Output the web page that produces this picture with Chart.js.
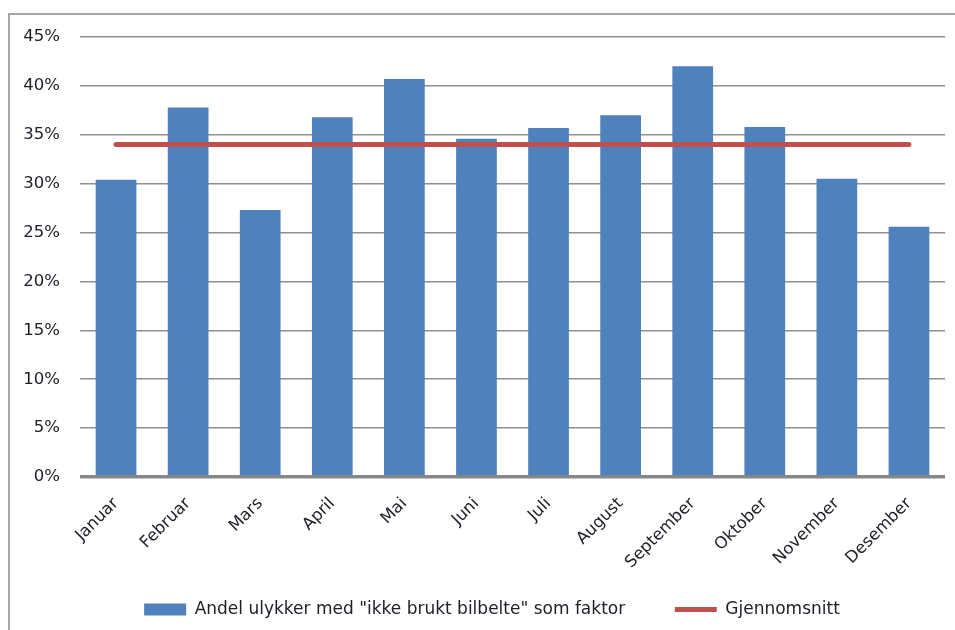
<!DOCTYPE html>
<html lang="no">
<head>
<meta charset="utf-8">
<title>Andel ulykker med "ikke brukt bilbelte" som faktor</title>
<script src="https://cdn.jsdelivr.net/npm/chart.js@4.4.1/dist/chart.umd.min.js"></script>
<style>
  html, body { margin: 0; padding: 0; background: #ffffff; overflow: hidden; }
  #wrap { position: relative; width: 955px; height: 630px; }
  #frame {
    position: absolute; left: 8px; top: 13px; width: 1000px; height: 700px;
    border: 2px solid #a6a6a6; box-sizing: border-box; pointer-events: none;
  }
  canvas { position: absolute; left: 0; top: 0; }
</style>
</head>
<body>
<div id="wrap">
  <canvas id="chart" width="955" height="630"></canvas>
  <div id="frame"></div>
</div>
<script>
// Månedlige andeler (prosent) og gjennomsnittet for hele året
const months = ['Januar', 'Februar', 'Mars', 'April', 'Mai', 'Juni', 'Juli',
                'August', 'September', 'Oktober', 'November', 'Desember'];
const andel = [30.4, 37.8, 27.3, 36.8, 40.7, 34.6, 35.7, 37.0, 42.0, 35.8, 30.5, 25.6];
const gjennomsnitt = [34, 34, 34, 34, 34, 34, 34, 34, 34, 34, 34, 34];
const yTicks = [0, 5, 10, 15, 20, 25, 30, 35, 40, 45];

const barLabel = 'Andel ulykker med "ikke brukt bilbelte" som faktor';
const lineLabel = 'Gjennomsnitt';

const FONT = '"DejaVu Sans"';
const FONT_SIZE = 16.5;
const LEGEND_SIZE = 17;
const TEXT = '#1e1e28';
// extra room after the first legend entry
const LEGEND_GAP = '\u00a0\u00a0\u00a0\u00a0';

new Chart(document.getElementById('chart'), {
  data: {
    labels: months,
    datasets: [
      {
        type: 'bar',
        label: barLabel,
        data: andel,
        backgroundColor: '#4f81bd',
        borderWidth: 0,
        categoryPercentage: 1,
        barPercentage: 0.565,
        order: 2
      },
      {
        type: 'line',
        label: lineLabel,
        data: gjennomsnitt,
        borderColor: '#c0504d',
        backgroundColor: '#c0504d',
        borderWidth: 5,
        borderCapStyle: 'round',
        pointRadius: 0,
        fill: false,
        order: 1
      }
    ]
  },
  options: {
    responsive: false,
    animation: false,
    events: [],
    layout: { padding: { left: 20, right: -9, top: 37, bottom: 2 } },
    scales: {
      x: {
        grid: { display: false, drawTicks: false },
        border: { display: false },
        ticks: {
          color: TEXT,
          font: { family: FONT, size: FONT_SIZE },
          maxRotation: 45,
          minRotation: 45,
          padding: 17,
          autoSkip: false
        },
        afterFit: (scale) => { scale.height = 96; }
      },
      y: {
        min: 0,
        max: 45,
        afterBuildTicks: (scale) => { scale.ticks = yTicks.map(v => ({ value: v })); },
        grid: {
          drawTicks: false,
          color: (c) => (c.tick && c.tick.value === 0 ? '#878787' : '#8f8f8f'),
          lineWidth: (c) => (c.tick && c.tick.value === 0 ? 3.5 : 1.5)
        },
        border: { display: false },
        ticks: {
          color: TEXT,
          font: { family: FONT, size: FONT_SIZE },
          padding: 20,
          callback: (v) => v + '%'
        },
        afterFit: (scale) => { scale.width = 60; }
      },
      // empty right-hand gutter next to the plot
      yRight: {
        position: 'right',
        display: true,
        grid: { display: false, drawTicks: false },
        border: { display: false },
        ticks: { display: false },
        afterFit: (scale) => { scale.width = 19; }
      }
    },
    plugins: {
      tooltip: { enabled: false },
      legend: {
        position: 'bottom',
        labels: {
          color: TEXT,
          font: { family: FONT, size: LEGEND_SIZE },
          padding: 28,
          usePointStyle: true,
          pointStyleWidth: 42,
          boxHeight: 12,
          generateLabels: (chart) => chart.data.datasets.map((ds, i) => ({
            text: ds.type === 'bar' ? ds.label + LEGEND_GAP : ds.label,
            datasetIndex: i,
            fillStyle: ds.backgroundColor,
            strokeStyle: ds.type === 'line' ? ds.borderColor : ds.backgroundColor,
            lineWidth: ds.type === 'line' ? 5 : 0,
            lineCap: 'butt',
            pointStyle: ds.type === 'line' ? 'line' : 'rect',
            fontColor: TEXT,
            hidden: false
          }))
        }
      }
    }
  }
});
</script>
</body>
</html>
